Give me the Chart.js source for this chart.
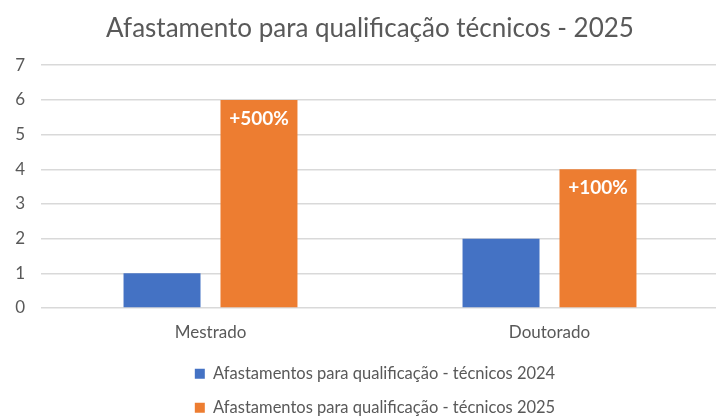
<!DOCTYPE html>
<html>
<head>
<meta charset="utf-8">
<script src="https://cdn.jsdelivr.net/npm/chart.js@4.4.1/dist/chart.umd.min.js"></script>
<style>
  html, body { margin: 0; padding: 0; background: #fff; overflow: hidden; }
  #wrap { width: 716px; height: 417px; overflow: hidden; position: relative; }
  #box { width: 740px; height: 426px; position: absolute; left: 0; top: 0; }
</style>
</head>
<body>
<div id="wrap"><div id="box"><canvas id="qualChart"></canvas></div></div>
<script>
// categories and series
const categories = ['Mestrado', 'Doutorado'];
const values2024 = [1, 2];
const values2025 = [6, 4];
const growthLabels = ['+500%', '+100%'];
const yTicks = [0, 1, 2, 3, 4, 5, 6, 7];

const grey = '#595959';
Chart.defaults.font.family = 'Lato, "Open Sans", sans-serif';
Chart.defaults.color = grey;

// white % labels inside the top of the 2025 bars
const growthLabelPlugin = {
    id: 'growthLabels',
    afterDatasetsDraw(chart) {
        const ctx = chart.ctx;
        const meta = chart.getDatasetMeta(1);
        ctx.save();
        ctx.fillStyle = '#ffffff';
        ctx.font = 'bold 19px Lato, "Open Sans", sans-serif';
        ctx.textAlign = 'center';
        ctx.textBaseline = 'middle';
        meta.data.forEach((bar, i) => {
            ctx.fillText(growthLabels[i], bar.x, bar.y + 19);
        });
        ctx.restore();
    }
};

// one legend item per row, and centre title/legend like the original
const layoutTweaks = {
    id: 'layoutTweaks',
    beforeLayout(chart) {
        const legend = chart.legend;
        if (!legend || legend._wrapped) return;
        const origFit = legend.fit;
        legend.fit = function () {
            const w = this.maxWidth;
            this.maxWidth = 440;
            origFit.call(this);
            this.maxWidth = w;
            this.width = w;
        };
        legend._wrapped = true;
    },
    afterLayout(chart) {
        const t = chart.titleBlock;
        t.left = 21; t.right = 719; t.width = 698;
        const l = chart.legend;
        l.left = 30; l.right = 720; l.width = 690;
    }
};

const ctx1 = document.getElementById('qualChart').getContext('2d');
new Chart(ctx1, {
    type: 'bar',
    data: {
        labels: categories,
        datasets: [
            {
                label: 'Afastamentos para qualificação - técnicos 2024',
                data: values2024,
                backgroundColor: '#4472C4'
            },
            {
                label: 'Afastamentos para qualificação - técnicos 2025',
                data: values2025,
                backgroundColor: '#ED7D31'
            }
        ]
    },
    options: {
        responsive: true,
        maintainAspectRatio: false,
        animation: false,
        categoryPercentage: 0.572,
        barPercentage: 0.794,
        layout: {
            padding: { left: 0, right: 21, top: 0, bottom: 0 }
        },
        plugins: {
            title: {
                display: true,
                text: 'Afastamento para qualificação técnicos - 2025',
                color: grey,
                font: { size: 26, weight: 'normal' },
                padding: { top: 13, bottom: 21 }
            },
            legend: {
                position: 'bottom',
                labels: {
                    boxWidth: 10,
                    boxHeight: 10,
                    padding: 17.5,
                    color: grey,
                    font: { size: 16.5 }
                }
            },
            tooltip: { enabled: false }
        },
        scales: {
            x: {
                afterFit: s => { s.height = 40; },
                grid: { display: false },
                border: { display: false },
                ticks: {
                    color: grey,
                    font: { size: 17 },
                    padding: 6
                }
            },
            y: {
                min: 0,
                max: 7,
                afterBuildTicks: s => { s.ticks = yTicks.map(v => ({ value: v })); },
                afterFit: s => { s.width = 41; },
                grid: { color: '#d9d9d9', lineWidth: 1.5, drawTicks: false },
                border: { display: false },
                ticks: {
                    color: grey,
                    font: { size: 17 },
                    padding: 16
                }
            }
        }
    },
    plugins: [growthLabelPlugin, layoutTweaks]
});
</script>
</body>
</html>
